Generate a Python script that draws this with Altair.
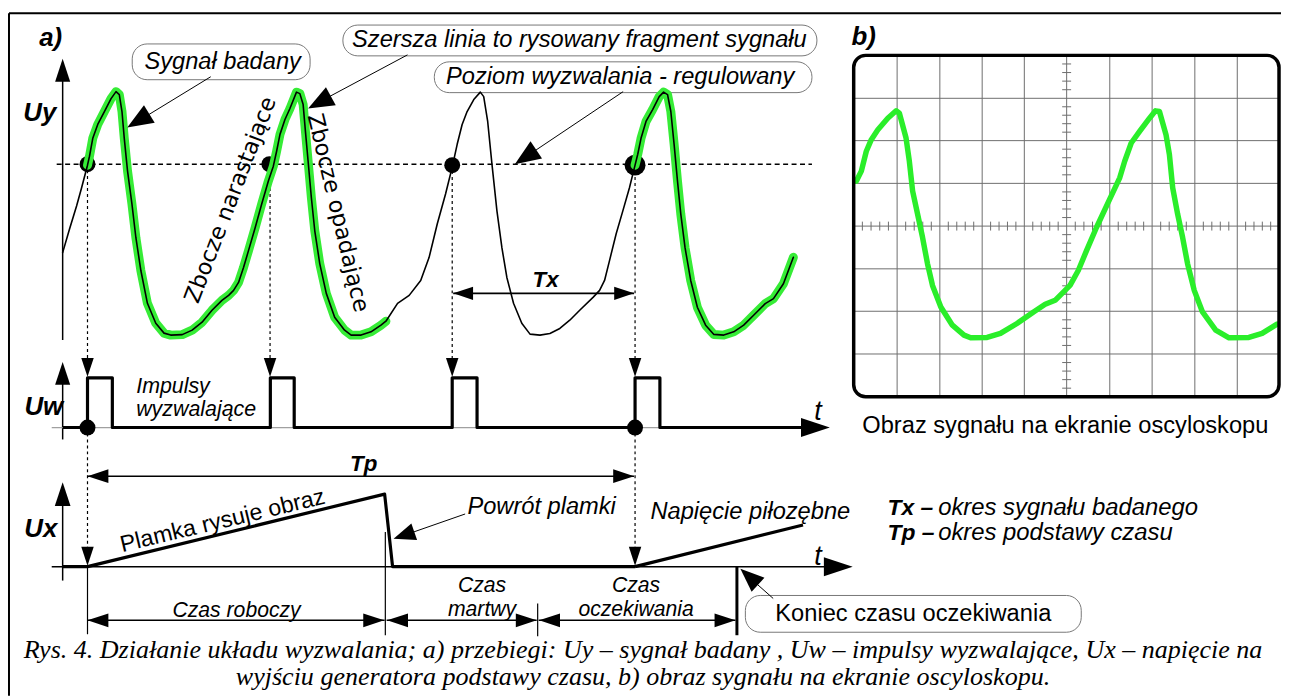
import math
import altair as alt
import pandas as pd

# ---------------- data (drawing coordinates) ----------------
# investigated signal Uy (panel a)
uy_x = [63, 70, 77, 82, 88, 90, 93.3, 98.3, 105, 111.7, 116.7, 120, 122.7, 125, 128.3, 132.7, 136.7, 141.7,
        148.3, 156.7, 165, 171.7, 183.3, 193.3, 203.3, 213.3, 223.3, 230, 235, 240, 245, 250, 256.7, 263.3,
        270, 275, 278.3, 281.7, 286.7, 291.7, 298.3, 301.7, 305, 307.3, 310, 313.3, 316.7, 321.7, 328.3,
        336.7, 346.7, 353.3, 363.3, 373.3, 383.3, 388.3,
        400, 411.7, 423.3, 431.7, 440, 448.3, 455, 460, 465, 470, 476.7, 483.3, 486.7, 490.7, 495, 500, 505,
        510, 516.7, 525, 533.3, 543.3, 553.3, 563.3, 573.3, 583.3, 596.7, 603.3, 608.3, 613.3, 620, 626.7,
        633.3, 639,
        641.7, 645, 650, 656.7, 663.3, 667.7, 671.7, 675, 678.3, 681.7, 685, 689.3, 695, 701.7, 710, 718.3,
        728.3, 738.3, 748.3, 758.3, 770, 778.3, 788.3, 798.3]
uy_y = [252, 228, 205, 187, 164, 155, 137, 123, 110, 97, 90, 93, 110, 137, 170, 203, 237, 270,
        303, 323, 333, 335, 334.5, 330, 322, 310, 300, 295, 290, 282, 267, 250, 227, 203,
        180, 165, 150, 133, 118, 107, 90.5, 92, 103, 130, 160, 197, 230, 263, 293,
        317, 330, 335, 335, 331.7, 325, 321,
        303, 295, 280, 257, 223, 193, 166, 143, 123, 110, 98, 90.5, 95, 120, 163, 210, 247,
        277, 303, 323, 334, 335, 333.3, 328.3, 320, 310, 297, 290, 280, 260, 233, 210,
        187, 164,
        153, 137, 120, 108, 95, 90.5, 93, 110, 143, 180, 213, 247, 280, 307, 325, 334.3,
        335, 331.7, 325, 315, 303.3, 298.3, 283.3, 256.7]
green_from = [88, 639]
green_to = [388.5, 800]

# trigger points on Uy and Uw
trig_x = [88, 271, 455, 639]
trig_y = [163, 163, 164, 164]
trig_r = [8, 8, 8, 10.5]
uw_dot_x = [88, 639]
uw_dot_y = [428, 428]

# trigger pulses Uw (thick polyline)
uw_x = [63, 88, 88, 113, 113, 272, 272, 296, 296, 455, 455, 480, 480, 639, 639, 664, 664, 806]
uw_y = [428, 428, 378, 378, 428, 428, 378, 378, 428, 428, 378, 378, 428, 428, 378, 378, 428, 428]

# time base sweep Ux (thick polylines)
ux1_x = [63, 88, 387, 395, 639]
ux1_y = [568, 568, 495, 568, 568]
ux2_x = [639, 808]
ux2_y = [568, 526]

# oscilloscope screen picture (panel b)
sc_x = [861.7, 866.7, 871.7, 876.7, 883.3, 893.3, 901.7, 905, 911.7, 915, 918.3, 923.3, 928.3, 933.3, 938.3,
        946.7, 958.3, 970, 976.7, 993.3, 1006.7, 1023.3, 1040, 1051.7, 1061.7, 1070, 1076.7, 1085, 1093.3,
        1103.3, 1115, 1126.7, 1131.7, 1138.3, 1146.7, 1156.7, 1162.7, 1166.7, 1173.3, 1176.7, 1180, 1185,
        1190, 1195, 1201.7, 1210, 1223.3, 1236.7, 1256.7, 1270, 1285]
sc_y = [180, 170, 150, 138.3, 128.3, 116.7, 109.3, 111.7, 136.7, 160, 190, 213.3, 236.7, 263.3, 285,
        306.7, 325, 335, 337.7, 337.3, 333.3, 323.3, 311.7, 304, 300, 291.7, 285, 270, 250,
        226.7, 201.7, 176.7, 160, 141.7, 130, 116.7, 109.3, 110, 133.3, 153.3, 186.7, 213.3,
        236.7, 263.3, 290, 311.7, 330, 337.7, 337.3, 333.3, 324]
grid_vx = [902.7, 945.7, 988.3, 1030.7, 1073.3, 1116.7, 1159.3, 1202.3, 1245]
grid_hy = [96.7, 139.3, 182.3, 225.3, 268.3, 311, 354]
screen_box = [859, 53.5, 1287, 397]

# ---------------- helpers ----------------
xs = alt.Scale(domain=[8, 1289], nice=False, zero=False)
ys = alt.Scale(domain=[8, 698], nice=False, zero=False, reverse=True)
X = alt.X("x:Q", scale=xs, axis=None)
Y = alt.Y("y:Q", scale=ys, axis=None)
X2 = alt.X2("x2:Q")
Y2 = alt.Y2("y2:Q")


def poly(lines):
    rows = []
    for k, (px, py) in enumerate(lines):
        for i, (a, b) in enumerate(zip(px, py)):
            rows.append({"x": a, "y": b, "i": i, "id": k})
    return pd.DataFrame(rows)


def line_layer(lines, color, width, dash=None, cap="round"):
    kw = dict(color=color, strokeWidth=width, strokeCap=cap, strokeJoin="round")
    if dash:
        kw["strokeDash"] = dash
    return alt.Chart(poly(lines)).mark_line(**kw).encode(
        x=X, y=Y, order="i:Q", detail="id:N")


def rules(segs, color, width, dash=None):
    df = pd.DataFrame(segs, columns=["x", "y", "x2", "y2"])
    kw = dict(color=color, strokeWidth=width)
    if dash:
        kw["strokeDash"] = dash
    return alt.Chart(df).mark_rule(**kw).encode(x=X, y=Y, x2=X2, y2=Y2)


def texts(items, font="Liberation Sans", size=21, style="normal", weight="normal",
          align="center", angle=0):
    df = pd.DataFrame(items, columns=["x", "y", "t"])
    return alt.Chart(df).mark_text(font=font, fontSize=size, fontStyle=style, fontWeight=weight,
                                   align=align, baseline="middle", angle=angle,
                                   color="black").encode(x=X, y=Y, text="t:N")


NARROW = "M0,0L0.66,2L-0.66,2Z"
WIDE = "M0,0L0.8,2L-0.8,2Z"


def heads(items):
    rows = []
    for tx, ty, fx, fy, length, shp in items:
        ang = math.degrees(math.atan2(tx - fx, -(ty - fy))) % 360
        rows.append({"x": tx, "y": ty, "ang": ang, "sz": length ** 2, "shp": shp})
    df = pd.DataFrame(rows)
    return alt.Chart(df).mark_point(filled=True, color="black", opacity=1, strokeWidth=0).encode(
        x=X, y=Y,
        shape=alt.Shape("shp:N", scale=None),
        size=alt.Size("sz:Q", scale=None),
        angle=alt.Angle("ang:Q", scale=None))


# ---------------- layers ----------------
layers = []

# outer frame
layers.append(rules([[9, 11, 1289, 11], [9, 11, 9, 698]], "black", 2))

# callout boxes
boxes = pd.DataFrame([[133, 42, 312, 78], [345, 23, 822, 54], [437, 60, 817, 91], [750, 597, 1088, 634]],
                     columns=["x", "y", "x2", "y2"])
layers.append(alt.Chart(boxes).mark_rect(fill="white", stroke="#777", strokeWidth=1, cornerRadius=15)
              .encode(x=X, y=Y, x2=X2, y2=Y2))

# trigger level and projection lines
layers.append(rules([[57, 163, 817, 163]], "black", 1.5, [5, 3.5]))
layers.append(rules([[88, 163, 88, 370], [271.7, 163, 271.7, 370], [455, 164, 455, 370], [639, 164, 639, 370],
                     [88, 428, 88, 560], [639, 428, 639, 560]], "black", 1.2, [3, 3]))

# axes
layers.append(rules([[63, 70, 63, 340], [63, 375, 63, 440], [63, 495, 63, 582]], "black", 1.5))
layers.append(rules([[52, 428, 812, 428]], "#a0a0a0", 1.3))
layers.append(rules([[52, 568, 835, 568]], "black", 1.5))

# dimension lines and markers
layers.append(rules([[456, 293, 638, 293], [88, 477, 638, 477], [88, 622, 387, 622], [389, 622, 540, 622],
                     [542, 622, 740, 622]], "black", 1.6))
layers.append(rules([[88, 568, 88, 636], [387.7, 533, 387.7, 637], [541, 605, 541, 638]], "black", 1.2))
layers.append(rules([[741.5, 568, 741.5, 637]], "black", 3))

# callout leader lines
layers.append(rules([[212, 75, 140, 119], [410, 53, 322, 100], [627, 90, 530, 155], [468, 515, 405, 537],
                     [778, 600, 752, 577]], "black", 1))

# trigger dots on Uy (under the green trace)
dots = pd.DataFrame({"x": trig_x, "y": trig_y, "s": [4 * r * r for r in trig_r]})
layers.append(alt.Chart(dots).mark_point(filled=True, color="black", opacity=1, shape="circle", strokeWidth=0)
              .encode(x=X, y=Y, size=alt.Size("s:Q", scale=None)))

# signal: green drawn fragments + black thin line
gx, gy = [], []
for a, b in zip(green_from, green_to):
    seg = [(px, py) for px, py in zip(uy_x, uy_y) if a <= px <= b]
    gx.append([p[0] for p in seg])
    gy.append([p[1] for p in seg])
layers.append(line_layer(list(zip(gx, gy)), "#36ec36", 9))
layers.append(line_layer([(uy_x, uy_y)], "black", 1.6))

# Uw pulses and Ux sweep
layers.append(line_layer([(uw_x, uw_y)], "black", 3.2, cap="butt"))
layers.append(line_layer([(ux1_x, ux1_y), (ux2_x, ux2_y)], "black", 3.2, cap="butt"))
uwd = pd.DataFrame({"x": uw_dot_x, "y": uw_dot_y})
layers.append(alt.Chart(uwd).mark_point(filled=True, color="black", opacity=1, shape="circle", size=256,
                                         strokeWidth=0).encode(x=X, y=Y))

# arrow heads: tip x, tip y, from x, from y, length, shape
layers.append(heads([
    [63, 57, 63, 100, 23, NARROW], [63, 362, 63, 400, 23, NARROW], [63, 483, 63, 520, 24, NARROW],
    [835, 428, 800, 428, 29, NARROW], [858, 568, 820, 568, 29, NARROW],
    [88, 377, 88, 300, 19, NARROW], [271.7, 377, 271.7, 300, 19, NARROW], [455, 377, 455, 300, 19, NARROW],
    [639, 377, 639, 300, 19, NARROW], [88, 567, 88, 500, 19, NARROW], [639, 567, 639, 500, 19, NARROW],
    [456, 293, 500, 293, 20, NARROW], [638, 293, 600, 293, 20, NARROW],
    [88, 477, 130, 477, 21, NARROW], [638, 477, 600, 477, 21, NARROW],
    [88, 622, 130, 622, 21, NARROW], [386.5, 622, 340, 622, 21, NARROW],
    [389.5, 622, 430, 622, 21, NARROW], [540, 622, 500, 622, 21, NARROW],
    [542.5, 622, 580, 622, 21, NARROW], [740, 622, 700, 622, 21, NARROW],
    [128, 126, 212, 75, 26, WIDE], [310, 107, 410, 53, 26, WIDE], [518, 163, 627, 90, 26, WIDE],
    [396, 540, 468, 515, 22, WIDE], [745, 570, 778, 600, 24, WIDE],
]))

# oscilloscope screen
layers.append(rules([[v, screen_box[1], v, screen_box[3]] for v in grid_vx] +
                    [[screen_box[0], h, screen_box[2], h] for h in grid_hy], "#6e6e6e", 1))
cx, cy = grid_vx[4], grid_hy[3]
edges_x = [screen_box[0]] + grid_vx + [screen_box[2]]
edges_y = [screen_box[1]] + grid_hy + [screen_box[3]]
minor = []
for a, b in zip(edges_x[:-1], edges_x[1:]):
    for k in range(1, 5):
        t = a + (b - a) * k / 5
        minor.append([t, cy - 4.5, t, cy + 4.5])
for a, b in zip(edges_y[:-1], edges_y[1:]):
    for k in range(1, 5):
        t = a + (b - a) * k / 5
        minor.append([cx - 4.5, t, cx + 4.5, t])
layers.append(rules(minor, "#6e6e6e", 1))
layers.append(line_layer([(sc_x, sc_y)], "#2aee2a", 5.5))
sbox = pd.DataFrame([screen_box], columns=["x", "y", "x2", "y2"])
layers.append(alt.Chart(sbox).mark_rect(fill=None, fillOpacity=0, stroke="black", strokeWidth=3.5,
                                        cornerRadius=12).encode(x=X, y=Y, x2=X2, y2=Y2))

# texts
layers.append(texts([[224, 60, "Sygnał badany"], [583, 38, "Szersza linia to rysowany fragment sygnału"],
                     [624, 75, "Poziom wyzwalania - regulowany"], [545, 508, "Powrót plamki"],
                     [755, 513, "Napięcie piłozębne"]], size=23.8, style="italic"))
layers.append(texts([[238, 613, "Czas roboczy"],
                     [485, 588, "Czas"], [485, 612, "martwy"], [640, 588, "Czas"], [640, 612, "oczekiwania"]],
                    size=21.3, style="italic"))
layers.append(texts([[137, 387, "Impulsy"], [137, 410, "wyzwalające"]],
                    size=21.5, style="italic", align="left"))
layers.append(texts([[944, 509, "okres sygnału badanego"], [944, 534, "okres podstawy czasu"]],
                    size=24, style="italic", align="left"))
layers.append(texts([[1072, 427, "Obraz sygnału na ekranie oscyloskopu"],
                     [919, 616, "Koniec czasu oczekiwania"]], size=23.8))
layers.append(texts([[51, 36, "a)"], [869, 35, "b)"], [40, 112, "Uy"], [44, 407, "Uw"], [41, 530, "Ux"]],
                    size=26, style="italic", weight="bold"))
layers.append(texts([[549, 280, "Tx"], [366, 465, "Tp"]], size=22.5, style="italic", weight="bold"))
layers.append(texts([[893, 509, "Tx –"], [893, 534, "Tp –"]], size=23, style="italic", weight="bold",
                    align="left"))
layers.append(texts([[823, 412, "t"], [823, 558, "t"]], size=27, style="italic"))
layers.append(texts([[232, 199, "Zbocze narastające"]], font="DejaVu Sans", size=22.5, angle=291))
layers.append(texts([[340, 212, "Zbocze opadające"]], font="DejaVu Sans", size=22.5, angle=76.5))
layers.append(texts([[224, 522, "Plamka rysuje obraz"]], size=23.3, angle=346.5))
layers.append(texts([[647, 652, "Rys. 4. Działanie układu wyzwalania; a) przebiegi: Uy – sygnał badany , "
                                 "Uw – impulsy wyzwalające, Ux – napięcie na"],
                     [647, 679, "wyjściu generatora podstawy czasu, b) obraz sygnału na ekranie oscyloskopu."]],
                    font="Liberation Serif", size=26.2, style="italic"))

chart = alt.layer(*layers).properties(
    width=1281, height=690, padding=0, autosize=alt.AutoSizeParams(type="none"),
    background="white"
).configure_view(stroke=None)

chart.save("out.html", embed_options={"renderer": "svg", "actions": False})
